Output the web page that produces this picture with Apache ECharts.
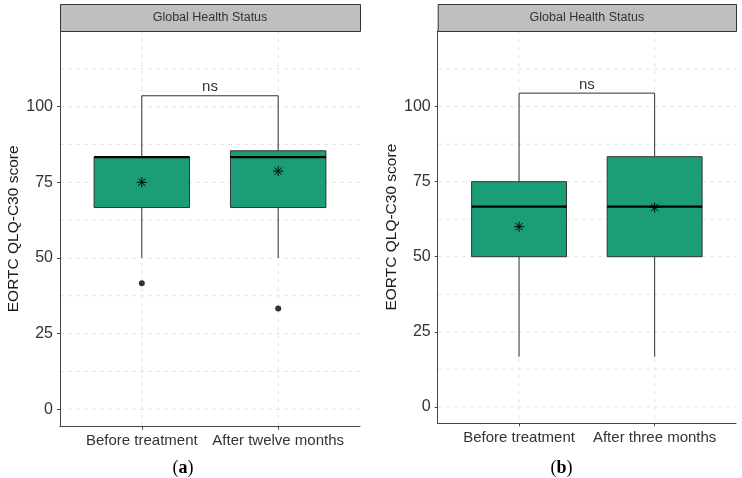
<!DOCTYPE html>
<html><head><meta charset="utf-8">
<script src="https://cdn.jsdelivr.net/npm/echarts@6/dist/echarts.min.js"></script>
<style>html,body{margin:0;padding:0;background:#fff}#c{width:742px;height:478px}</style>
</head><body><div id="c"></div>
<script>
// ---- data ----
const panelTitle = 'Global Health Status';
const yAxisTitle = 'EORTC QLQ-C30 score';
const captionLetters = ['a', 'b'];
const categoriesA = ['Before treatment', 'After twelve months'];
const categoriesB = ['Before treatment', 'After three months'];
const yTickValues = [0, 25, 50, 75, 100];
const yGridValues = [0, 12.5, 25, 37.5, 50, 62.5, 75, 87.5, 100, 112.5];
// box rows: [category position, lower whisker, Q1, median, Q3, upper whisker]
const boxesA = [[1, 50, 66.67, 83.33, 83.33, 100], [2, 50, 66.67, 83.33, 85.42, 100]];
const meansA = [[1, 75.0], [2, 78.7]];
const outliersA = [[1, 41.67], [2, 33.33]];
const boxesB = [[1, 16.67, 50, 66.67, 75, 100], [2, 16.67, 50, 66.67, 83.33, 100]];
const meansB = [[1, 60.0], [2, 66.4]];
const outliersB = [];
// significance bracket: [x1, x2, bracket height, leg bottom]
const bracketA = [[1, 2, 103.6, 100]];
const bracketB = [[1, 2, 104.5, 100]];
const signifLabel = 'ns';

// ---- style ----
const FILL = '#1b9e77';
const FONT = 'Liberation Sans, Arial, sans-serif';
const gridBoxes = [
  {left: 60, top: 31, width: 300, height: 395.7},
  {left: 437.7, top: 31, width: 298.3, height: 392.3}
];
const yRanges = [[-5.75, 125], [-5.5, 125.2]];

const chart = echarts.init(document.getElementById('c'), null, {renderer: 'canvas'});

function xAxisFor(i, cats) {
  return {
    type: 'value', gridIndex: i, min: 0.4, max: 2.6,
    axisLine: {show: true, onZero: false, lineStyle: {color: '#444', width: 1}},
    axisTick: {show: true, customValues: [1, 2], length: 3, inside: false, lineStyle: {color: '#444'}},
    axisLabel: {show: true, customValues: [1, 2], margin: 7, color: '#333', fontSize: 15, fontFamily: FONT,
      formatter: v => cats[Math.round(v) - 1] || ''},
    splitLine: {show: false}
  };
}
function yAxisFor(i) {
  return {
    type: 'value', gridIndex: i, min: yRanges[i][0], max: yRanges[i][1],
    name: yAxisTitle, nameLocation: 'middle', nameGap: 38, nameRotate: 90,
    nameTextStyle: {fontSize: 15.5, color: '#1a1a1a', fontFamily: FONT},
    axisLine: {show: true, onZero: false, lineStyle: {color: '#444', width: 1}},
    axisTick: {show: true, customValues: yTickValues, length: 3, inside: false, lineStyle: {color: '#444'}},
    axisLabel: {show: true, customValues: yTickValues, margin: 7, color: '#333', fontSize: 16, fontFamily: FONT},
    splitLine: {show: false}
  };
}

function hGridSeries(i) {
  return {
    type: 'custom', xAxisIndex: i, yAxisIndex: i, z: 0, silent: true,
    data: yGridValues.map(v => [1, v]),
    renderItem: (params, api) => {
      const cs = params.coordSys;
      const y = api.coord([1, api.value(1)])[1];
      return {type: 'line', shape: {x1: cs.x, y1: y, x2: cs.x + cs.width, y2: y},
        style: {stroke: '#e4e4e4', lineWidth: 1, lineDash: [4, 4]}};
    }
  };
}
function vGridSeries(i) {
  return {
    type: 'custom', xAxisIndex: i, yAxisIndex: i, z: 0, silent: true,
    data: [[1, 0], [2, 0]],
    renderItem: (params, api) => {
      const cs = params.coordSys;
      const x = api.coord([api.value(0), 0])[0];
      return {type: 'line', shape: {x1: x, y1: cs.y, x2: x, y2: cs.y + cs.height},
        style: {stroke: '#e4e4e4', lineWidth: 1, lineDash: [4, 4]}};
    }
  };
}
function boxSeries(i, data) {
  return {
    type: 'custom', xAxisIndex: i, yAxisIndex: i, z: 3, silent: true,
    data: data,
    renderItem: (params, api) => {
      const x = api.value(0);
      const xc = api.coord([x, 0])[0];
      const hw = api.size([0.7, 0])[0] / 2;
      const yLo = api.coord([x, api.value(1)])[1];
      const yQ1 = api.coord([x, api.value(2)])[1];
      const yMed = api.coord([x, api.value(3)])[1];
      const yQ3 = api.coord([x, api.value(4)])[1];
      const yHi = api.coord([x, api.value(5)])[1];
      return {type: 'group', children: [
        {type: 'line', shape: {x1: xc, y1: yQ1, x2: xc, y2: yLo}, style: {stroke: '#333', lineWidth: 1}},
        {type: 'line', shape: {x1: xc, y1: yQ3, x2: xc, y2: yHi}, style: {stroke: '#333', lineWidth: 1}},
        {type: 'rect', shape: {x: xc - hw, y: yQ3, width: 2 * hw, height: yQ1 - yQ3},
          style: {fill: FILL, stroke: '#333', lineWidth: 1}},
        {type: 'line', shape: {x1: xc - hw, y1: yMed, x2: xc + hw, y2: yMed}, style: {stroke: '#000', lineWidth: 2.2}}
      ]};
    }
  };
}
function meanSeries(i, data) {
  return {
    type: 'custom', xAxisIndex: i, yAxisIndex: i, z: 4, silent: true,
    data: data,
    renderItem: (params, api) => {
      const p = api.coord([api.value(0), api.value(1)]);
      const r = 5, d = 3.6;
      const st = {stroke: '#000', lineWidth: 1};
      return {type: 'group', children: [
        {type: 'line', shape: {x1: p[0] - r, y1: p[1], x2: p[0] + r, y2: p[1]}, style: st},
        {type: 'line', shape: {x1: p[0], y1: p[1] - r, x2: p[0], y2: p[1] + r}, style: st},
        {type: 'line', shape: {x1: p[0] - d, y1: p[1] - d, x2: p[0] + d, y2: p[1] + d}, style: st},
        {type: 'line', shape: {x1: p[0] - d, y1: p[1] + d, x2: p[0] + d, y2: p[1] - d}, style: st}
      ]};
    }
  };
}
function outlierSeries(i, data) {
  return {
    type: 'scatter', xAxisIndex: i, yAxisIndex: i, z: 4, silent: true,
    symbol: 'circle', symbolSize: 6, itemStyle: {color: '#000'},
    data: data
  };
}
function bracketSeries(i, data) {
  return {
    type: 'custom', xAxisIndex: i, yAxisIndex: i, z: 3, silent: true,
    data: data,
    renderItem: (params, api) => {
      const a = api.coord([api.value(0), api.value(2)]);
      const b = api.coord([api.value(1), api.value(2)]);
      const yT = api.coord([api.value(0), api.value(3)])[1];
      return {type: 'group', children: [
        {type: 'polyline', shape: {points: [[a[0], yT], [a[0], a[1]], [b[0], b[1]], [b[0], yT]]},
          style: {stroke: '#333', lineWidth: 1, fill: null}},
        {type: 'text', x: (a[0] + b[0]) / 2, y: a[1] - 1,
          style: {text: signifLabel, fill: '#333', fontSize: 15, fontFamily: FONT, align: 'center', verticalAlign: 'bottom'}}
      ]};
    }
  };
}

function stripGraphic(i) {
  const g = gridBoxes[i];
  return [
    {type: 'rect', left: g.left, top: 4, shape: {x: 0, y: 0, width: g.width, height: 27},
      style: {fill: '#bfbfbf', stroke: '#333', lineWidth: 1}, z: 10},
    {type: 'text', x: g.left + g.width / 2, y: 18,
      style: {text: panelTitle, fill: '#333', fontSize: 12.5, fontFamily: FONT, align: 'center', verticalAlign: 'middle'}, z: 11}
  ];
}
function captionGraphic(cx, letter) {
  return {type: 'text', x: cx, y: 468,
    style: {text: '{p|(}{b|' + letter + '}{p|)}', align: 'center', verticalAlign: 'middle',
      rich: {p: {fontSize: 18, fontFamily: 'Liberation Serif, serif', fill: '#000', color: '#000'},
             b: {fontSize: 18, fontFamily: 'Liberation Serif, serif', fontWeight: 'bold', fill: '#000', color: '#000'}}}, z: 10};
}

chart.setOption({
  animation: false,
  backgroundColor: '#fff',
  textStyle: {fontFamily: FONT},
  grid: gridBoxes.map(g => ({left: g.left, top: g.top, width: g.width, height: g.height, containLabel: false})),
  xAxis: [xAxisFor(0, categoriesA), xAxisFor(1, categoriesB)],
  yAxis: [yAxisFor(0), yAxisFor(1)],
  series: [
    hGridSeries(0), vGridSeries(0), boxSeries(0, boxesA), meanSeries(0, meansA), outlierSeries(0, outliersA), bracketSeries(0, bracketA),
    hGridSeries(1), vGridSeries(1), boxSeries(1, boxesB), meanSeries(1, meansB), outlierSeries(1, outliersB), bracketSeries(1, bracketB)
  ],
  graphic: [].concat(stripGraphic(0), stripGraphic(1), [captionGraphic(183, captionLetters[0]), captionGraphic(561.5, captionLetters[1])])
});
</script></body></html>
